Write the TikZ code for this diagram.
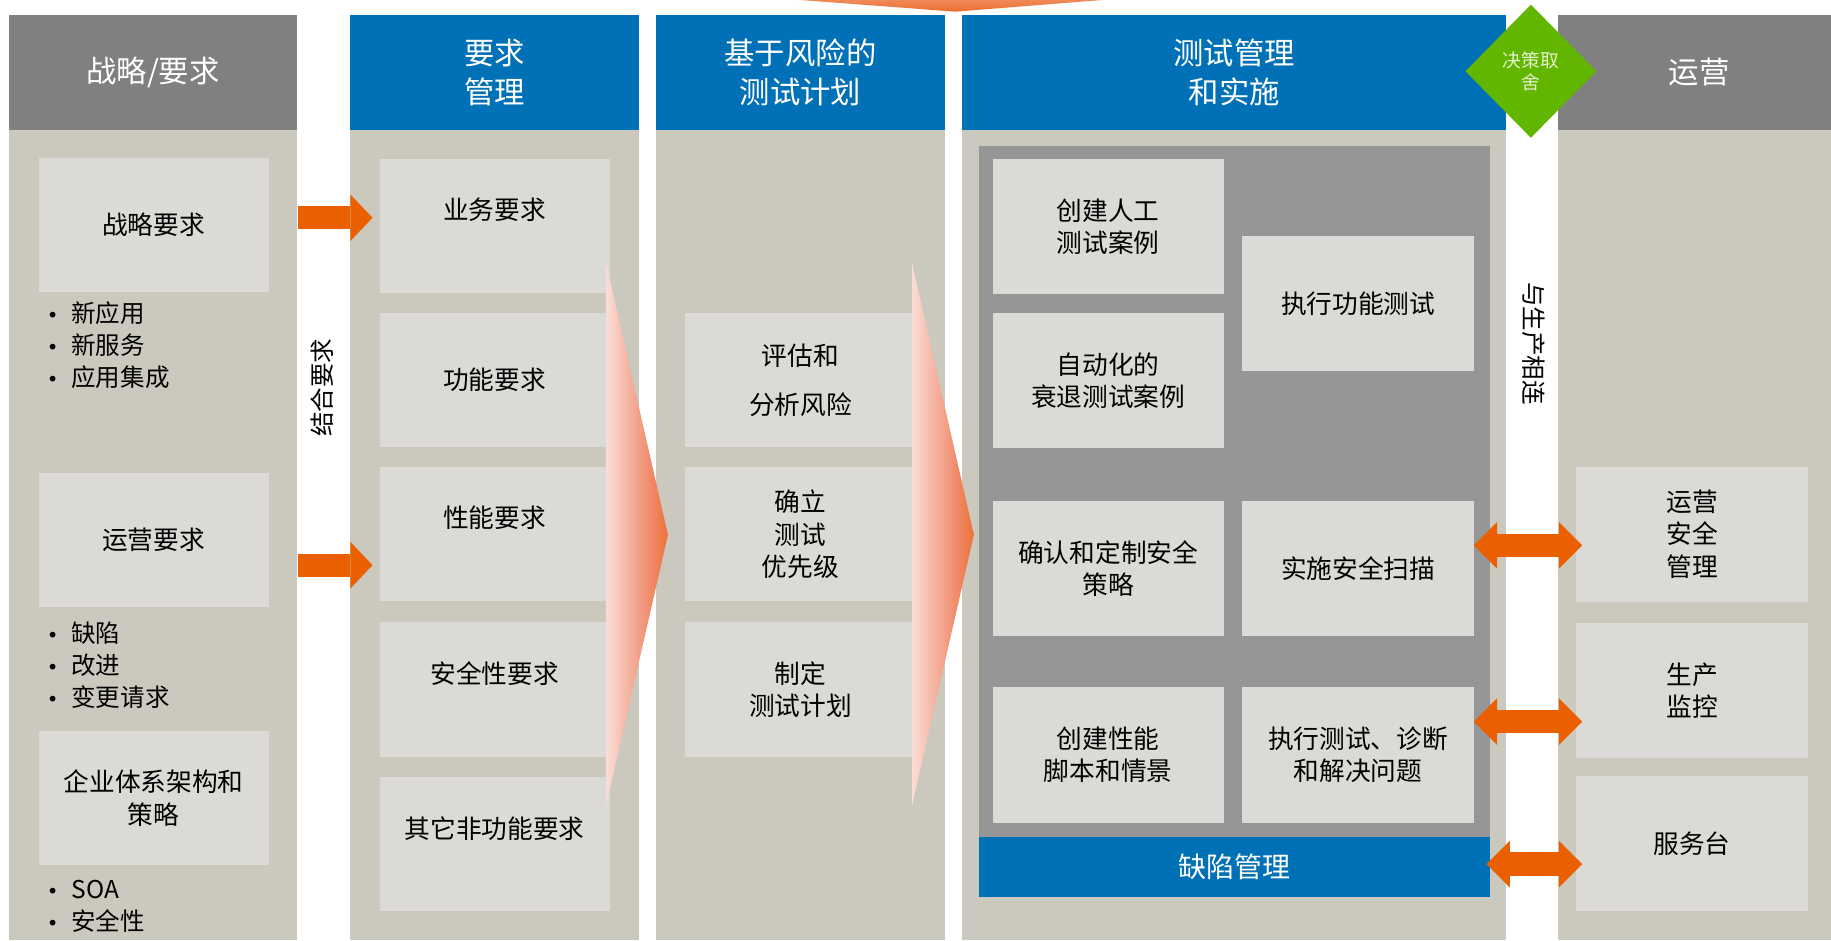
\documentclass[tikz,border=0pt]{standalone}
\usepackage{fontspec}
\setmainfont{Noto Sans CJK SC}
\newfontfamily\dvfont{DejaVu Sans}
\usetikzlibrary{shapes.geometric,arrows.meta,calc}
\definecolor{hdrgray}{RGB}{128,128,128}
\definecolor{hdrblue}{RGB}{0,112,183}
\definecolor{beige}{RGB}{203,201,189}
\definecolor{boxlight}{RGB}{219,218,214}
\definecolor{panelgray}{RGB}{150,150,150}
\definecolor{myorange}{RGB}{234,96,0}
\definecolor{dgreen}{RGB}{98,182,0}
\definecolor{chevA}{RGB}{253,244,242}
\definecolor{chevB}{RGB}{247,198,186}
\definecolor{chevD}{RGB}{240,140,108}
\definecolor{chevC}{RGB}{234,96,24}
\definecolor{toplight}{RGB}{243,150,110}
\definecolor{dmtext}{RGB}{225,242,205}
\pgfdeclarehorizontalshading{chevshade}{100bp}{color(0bp)=(white); color(15bp)=(chevA); color(35bp)=(chevB); color(60bp)=(chevD); color(85bp)=(chevC); color(100bp)=(chevC)}
\pgfdeclareverticalshading{topshade}{100bp}{color(0bp)=(chevC); color(100bp)=(toplight)}
\newcommand\bulitem{\makebox[22pt][l]{\hspace{1pt}{\dvfont\fontsize{17}{17}\selectfont •}}}
\begin{document}
\begin{tikzpicture}[x=1pt,y=-1pt,
  col/.style={rectangle, inner sep=0pt, outer sep=0pt, draw=none},
  hdr/.style={col, text=white, font=\fontsize{26}{33}\selectfont, align=center, minimum height=98pt},
  body/.style={col, fill=beige, minimum height=694pt},
  cell/.style={rectangle, inner sep=0pt, outer sep=0pt, fill=boxlight, minimum width=197pt, minimum height=115pt, align=center, font=\fontsize{22}{27.5}\selectfont},
  wcell/.style={cell, minimum width=198pt, minimum height=116pt},
  txt/.style={inner sep=0pt, align=center, font=\fontsize{22}{27.5}\selectfont},
  bul/.style={inner sep=0pt, align=left, anchor=west, font=\fontsize{21}{27.3}\selectfont},
  vtxt/.style={inner sep=0pt, font=\fontsize{21}{21}\selectfont},
  blk/.style={draw=myorange, line width=20pt, -{Triangle[length=19pt,width=40pt,line width=0pt]}},
  dblk/.style={draw=myorange, line width=20pt, {Triangle[length=20pt,width=40pt,line width=0pt]}-{Triangle[length=20pt,width=40pt,line width=0pt]}},
]
\useasboundingbox (0,0) rectangle (1568,805);
\fill[white] (0,0) rectangle (1568,805);
% columns
\node[body, minimum width=246pt] (c1b) at (131,458) {};
\node[hdr, fill=hdrgray, minimum width=246pt] (c1h) at (131,62) {战略/要求};
\node[body, minimum width=247pt] (c2b) at (423.5,458) {};
\node[hdr, fill=hdrblue, minimum width=247pt] (c2h) at (423.5,62) {要求\\管理};
\node[body, minimum width=247pt] (c3b) at (685.5,458) {};
\node[hdr, fill=hdrblue, minimum width=247pt] (c3h) at (685.5,62) {基于风险的\\测试计划};
\node[body, minimum width=466pt] (c4b) at (1057,458) {};
\node[hdr, fill=hdrblue, minimum width=466pt] (c4h) at (1057,62) {测试管理\\和实施};
\node[body, minimum width=242pt] (c5b) at (1455,458) {};
\node[hdr, fill=hdrgray, minimum width=242pt] (c5h) at (1455,62) {运营};
% test management panel
\node[col, fill=panelgray, minimum width=438pt, minimum height=592pt] (pan) at (1057,421) {};
\node[col, fill=hdrblue, minimum width=438pt, minimum height=51pt, text=white, font=\fontsize{24}{24}\selectfont] (defect) at (1057,742.5) {缺陷管理};
% column 1
\node[cell] (sr) at (131.5,192.5) {战略要求};
\node[cell] (orq) at (131.5,462.5) {运营要求};
\node[cell] (ea) at (131.5,683.5) {企业体系架构和\\策略};
\node[bul] (l1) at (39,295.5) {\bulitem 新应用\\\bulitem 新服务\\\bulitem 应用集成};
\node[bul] (l2) at (39,569.5) {\bulitem 缺陷\\\bulitem 改进\\\bulitem 变更请求};
\node[bul] (l3) at (39,776) {\bulitem SOA\\\bulitem 安全性};
% column 2
\node[cell] (b1) at (423.5,193.5) {};
\node[txt] (b1t) at (423.5,180) {业务要求};
\node[cell] (b2) at (423.5,325.5) {};
\node[txt] (b2t) at (423.5,325) {功能要求};
\node[cell] (b3) at (423.5,457.5) {};
\node[txt] (b3t) at (423.5,443) {性能要求};
\node[cell] (b4) at (423.5,590.5) {};
\node[txt] (b4t) at (423.5,577) {安全性要求};
\node[cell] (b5) at (423.5,722.5) {};
\node[txt] (b5t) at (423.5,710) {其它非功能要求};
% column 3
\node[cell, font=\fontsize{22}{42}\selectfont] (p1) at (685.5,325.5) {评估和\\分析风险};
\node[cell] (p2) at (685.5,457.5) {确立\\测试\\优先级};
\node[cell] (p3) at (685.5,590.5) {制定\\测试计划};
% column 4
\node[wcell] (m1) at (949,194) {创建人工\\测试案例};
\node[wcell] (m2) at (1163,260) {执行功能测试};
\node[wcell] (m3) at (949,326) {自动化的\\衰退测试案例};
\node[wcell] (m4) at (949,487) {确认和定制安全\\策略};
\node[wcell] (m5) at (1163,487) {实施安全扫描};
\node[wcell] (m6) at (949,646.5) {创建性能\\脚本和情景};
\node[wcell] (m7) at (1163,646.5) {执行测试、诊断\\和解决问题};
% column 5
\node[wcell] (o1) at (1449,457.5) {运营\\安全\\管理};
\node[wcell] (o2) at (1449,591.5) {生产\\监控};
\node[wcell] (o3) at (1449,722.5) {服务台};
% chevrons
\shade[shading=chevshade] (519,225) -- (572,458) -- (519,690) -- cycle;
\shade[shading=chevshade] (781,225) -- (834,458) -- (781,690) -- cycle;
\shade[shading=topshade] (685,0) -- (944,0) -- (818,10) -- cycle;
% decision diamond
\node[diamond, fill=dgreen, inner sep=0pt, outer sep=0pt, minimum width=112pt, minimum height=114pt, text=dmtext, align=center, font=\fontsize{16}{19}\selectfont] (dm) at (1311,61) {决策取\\舍};
% vertical labels
\node[vtxt, rotate=90] (jh) at (276,332) {结合要求};
\node[vtxt, rotate=-90] (yl) at (1313,294) {与生产相连};
% arrows
\draw[blk] ($(sr.east)+(25,-6)$) -- ($(b1.west)+(-6,-7)$);
\draw[blk] ($(orq.east)+(25,21.5)$) -- ($(b3.west)+(-6,26.5)$);
\draw[dblk] ($(m5.east)+(0,-20)$) -- ($(o1.west)+(5,9.5)$);
\draw[dblk] ($(m7.east)+(0,-28.5)$) -- ($(o2.west)+(5,26.5)$);
\draw[dblk] ($(defect.east)+(-3,-2.5)$) -- ($(o3.west)+(5,17.5)$);
\end{tikzpicture}
\end{document}
